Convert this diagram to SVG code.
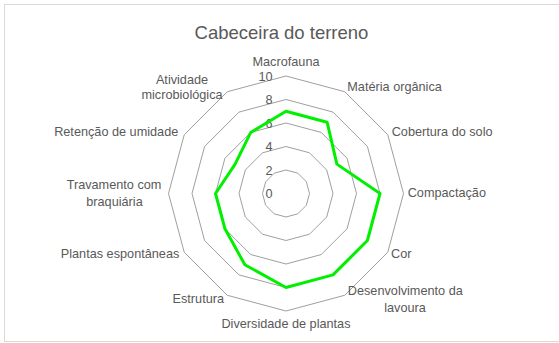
<svg xmlns="http://www.w3.org/2000/svg" width="559" height="343" viewBox="0 0 559 343">
<style>
.lbl{font-family:"Liberation Sans",Arial,sans-serif;font-size:12.7px;fill:#595959}
.tick{font-family:"Liberation Sans",Arial,sans-serif;font-size:12.7px;fill:#595959;text-anchor:end}
.ring{fill:none;stroke:#868686;stroke-width:0.8}
.mid{text-anchor:middle}
.end{text-anchor:end}
</style>
<rect x="0" y="0" width="559" height="343" fill="#ffffff"/>
<rect x="4.5" y="4.5" width="560" height="337" fill="#ffffff" stroke="#d9d9d9" stroke-width="1"/>
<text x="281.5" y="39" font-family="Liberation Sans, Arial, sans-serif" font-size="18.5" fill="#595959" text-anchor="middle">Cabeceira do terreno</text>
<g id="grid">
<polygon class="ring" points="286,170 297.75,173.15 306.35,181.75 309.5,193.5 306.35,205.25 297.75,213.85 286,217 274.25,213.85 265.65,205.25 262.5,193.5 265.65,181.75 274.25,173.15"/>
<polygon class="ring" points="286,146.5 309.5,152.8 326.7,170 333,193.5 326.7,217 309.5,234.2 286,240.5 262.5,234.2 245.3,217 239,193.5 245.3,170 262.5,152.8"/>
<polygon class="ring" points="286,123 321.25,132.45 347.05,158.25 356.5,193.5 347.05,228.75 321.25,254.55 286,264 250.75,254.55 224.95,228.75 215.5,193.5 224.95,158.25 250.75,132.45"/>
<polygon class="ring" points="286,99.5 333,112.09 367.41,146.5 380,193.5 367.41,240.5 333,274.91 286,287.5 239,274.91 204.59,240.5 192,193.5 204.59,146.5 239,112.09"/>
<polygon class="ring" points="286,76 344.75,91.74 387.76,134.75 403.5,193.5 387.76,252.25 344.75,295.26 286,311 227.25,295.26 184.24,252.25 168.5,193.5 184.24,134.75 227.25,91.74"/>
</g>
<g id="ticks">
<text class="tick" x="272.5" y="80.7">10</text>
<text class="tick" x="272.5" y="104.2">8</text>
<text class="tick" x="272.5" y="127.7">6</text>
<text class="tick" x="272.5" y="151.2">4</text>
<text class="tick" x="272.5" y="174.7">2</text>
<text class="tick" x="272.5" y="198.2">0</text>
</g>
<g id="connectors">
<polygon id="series" fill="none" stroke="#00f000" stroke-width="3" stroke-linejoin="round" points="286,111.25 327.13,122.27 336.88,164.13 380,193.5 367.41,240.5 333,274.91 286,287.5 244.88,264.73 224.95,228.75 215.5,193.5 235.12,164.13 250.75,132.45"/>
</g>
<g id="n-macrofauna"><text class="lbl mid" x="286" y="66">Macrofauna</text></g>
<g id="n-materia"><text class="lbl" x="347.3" y="90.7">Matéria orgânica</text></g>
<g id="n-cobertura"><text class="lbl" x="391.7" y="136">Cobertura do solo</text></g>
<g id="n-compactacao"><text class="lbl" x="407.7" y="197.3">Compactação</text></g>
<g id="n-cor"><text class="lbl" x="391" y="258.3">Cor</text></g>
<g id="n-desenvolvimento"><text class="lbl mid" x="405.3" y="295">Desenvolvimento da</text><text class="lbl mid" x="405" y="311.7">lavoura</text></g>
<g id="n-diversidade"><text class="lbl mid" x="286" y="328.3">Diversidade de plantas</text></g>
<g id="n-estrutura"><text class="lbl end" x="224" y="303.3">Estrutura</text></g>
<g id="n-plantas"><text class="lbl end" x="179.3" y="258.3">Plantas espontâneas</text></g>
<g id="n-travamento"><text class="lbl mid" x="114" y="189.3">Travamento com</text><text class="lbl mid" x="114.5" y="205.7">braquiária</text></g>
<g id="n-retencao"><text class="lbl end" x="178.3" y="135.5">Retenção de umidade</text></g>
<g id="n-atividade"><text class="lbl mid" x="182" y="84">Atividade</text><text class="lbl mid" x="182" y="98.5">microbiológica</text></g>
</svg>
